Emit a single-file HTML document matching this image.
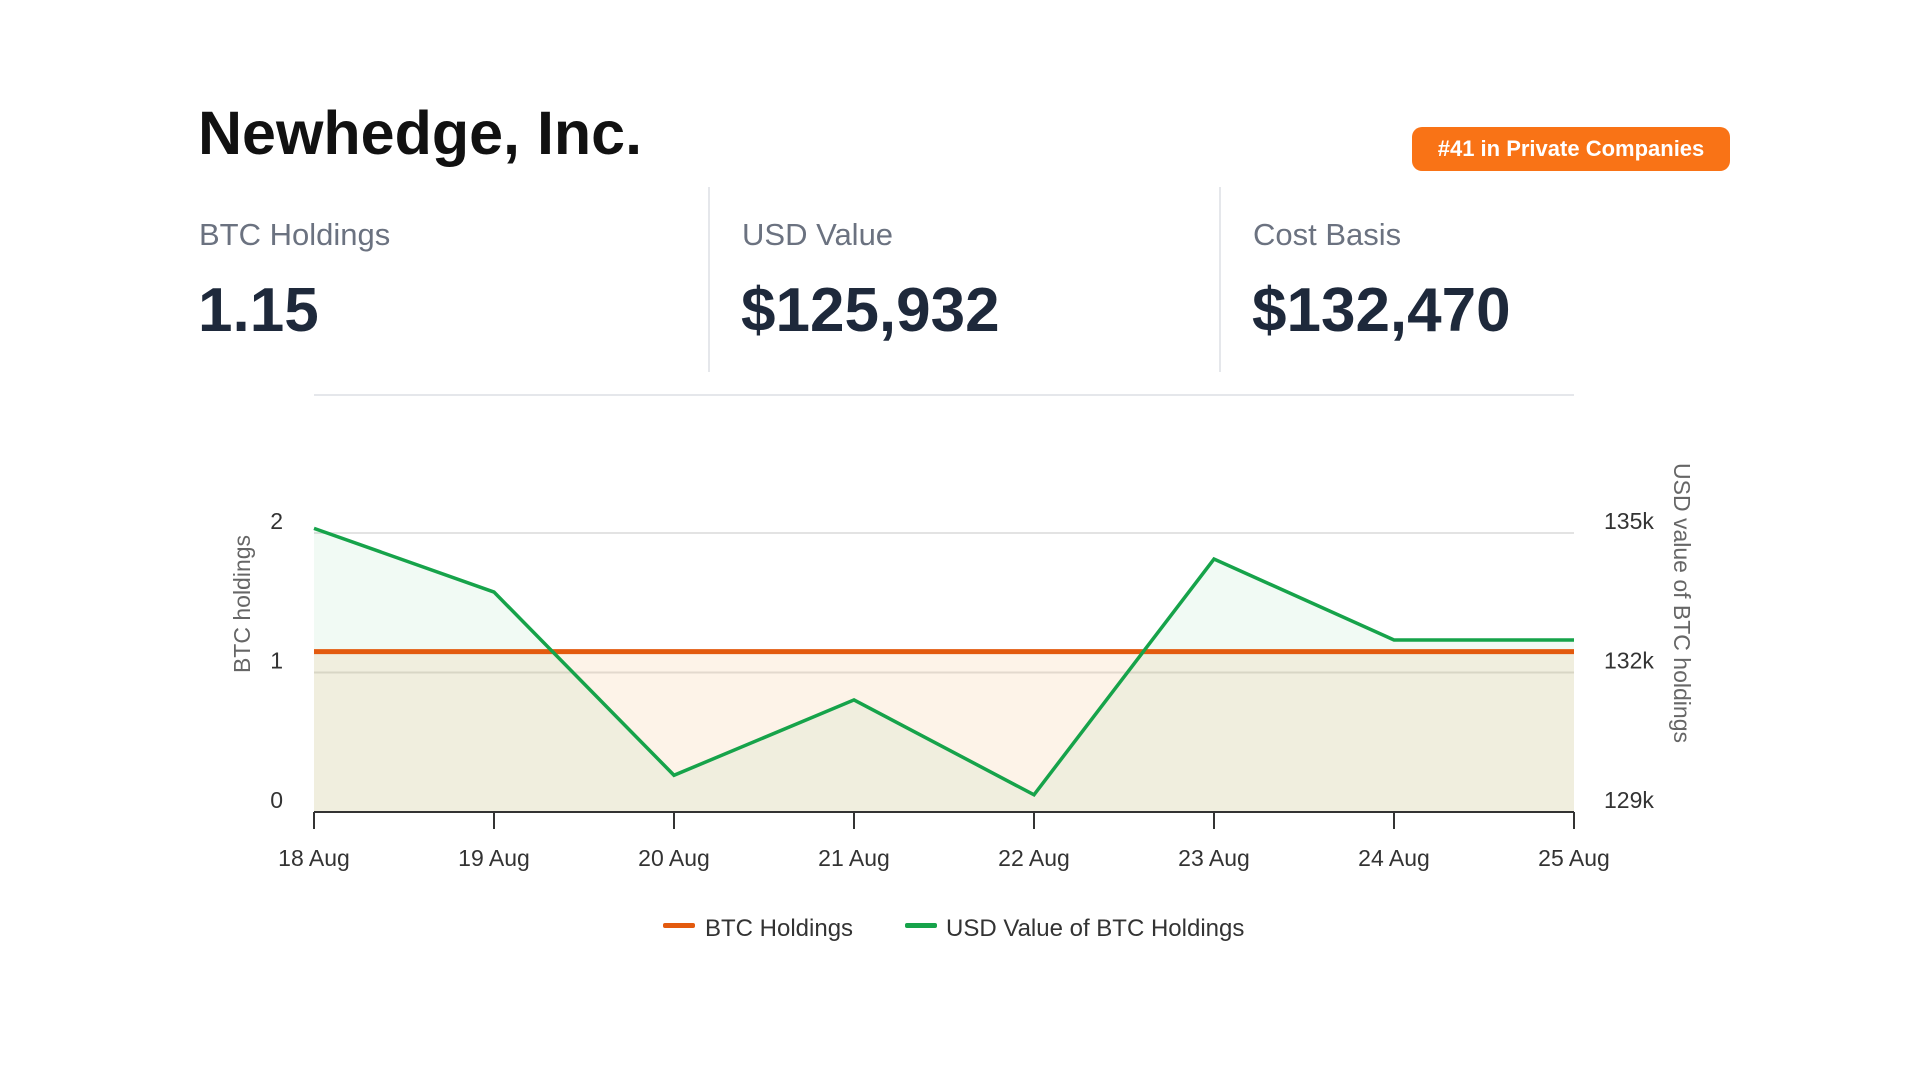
<!DOCTYPE html>
<html><head><meta charset="utf-8"><style>
body{margin:0;width:1920px;height:1080px;background:#fff;font-family:"Liberation Sans",sans-serif;position:relative;overflow:hidden}
.abs{position:absolute}
.title{left:198px;top:98px;font-size:61px;font-weight:bold;color:#111;letter-spacing:0px}
.badge{left:1412px;top:127px;width:318px;height:44px;background:#f97316;border-radius:10px;color:#fff;font-size:22px;font-weight:bold;text-align:center;line-height:44px}
.lbl{font-size:31px;color:#6b7280;top:217px}
.val{font-size:62px;font-weight:bold;color:#1e293b;top:275px}
.div{width:2px;background:#e5e7eb;top:187px;height:185px}
</style></head><body>
<div class="abs title">Newhedge, Inc.</div>
<div class="abs badge">#41 in Private Companies</div>
<div class="abs lbl" style="left:199px">BTC Holdings</div>
<div class="abs val" style="left:198px">1.15</div>
<div class="abs div" style="left:708px"></div>
<div class="abs lbl" style="left:742px">USD Value</div>
<div class="abs val" style="left:741px">$125,932</div>
<div class="abs div" style="left:1219px"></div>
<div class="abs lbl" style="left:1253px">Cost Basis</div>
<div class="abs val" style="left:1252px">$132,470</div>
<svg class="abs" style="left:0;top:0" width="1920" height="1080" id="chart"></svg>
<script>
const categories=["18 Aug","19 Aug","20 Aug","21 Aug","22 Aug","23 Aug","24 Aug","25 Aug"];
const btcValues=[1.15,1.15,1.15,1.15,1.15,1.15,1.15,1.15];
const usdValues=[135.1,133.73,129.79,131.41,129.37,134.44,132.7,132.7];
const leftTicks=[0,1,2];
const rightTicks=[129,132,135];
const NS="http://www.w3.org/2000/svg";
const svg=document.getElementById('chart');
const X0=314,X1=1574,Y0=812,Y2=533;
const xs=i=>X0+(X1-X0)*i/(categories.length-1);
const yL=v=>Y0-(Y0-Y2)*v/2;
const yR=v=>Y0-(Y0-Y2)*(v-129)/6;
function mk(tag,attrs,name,txt){const e=document.createElementNS(NS,tag);for(const k in attrs)e.setAttribute(k,attrs[k]);


if(txt!==undefined)e.textContent=txt;svg.appendChild(e);return e;}
mk('line',{x1:X0,x2:X1,y1:395,y2:395,stroke:'#e5e7eb','stroke-width':2},'chart-top-border');
leftTicks.forEach(t=>{if(t>0)mk('line',{x1:X0,x2:X1,y1:yL(t),y2:yL(t),stroke:'#e3e3e3','stroke-width':2},'gridline');
mk('text',{x:283,y:yL(t)-4,'text-anchor':'end','font-size':23,fill:'#333'},'left-tick-label',String(t));});
rightTicks.forEach(t=>{mk('text',{x:1604,y:yR(t)-4,'font-size':23,fill:'#333'},'right-tick-label',t+'k');});
let pu='M'+xs(0)+','+Y0;usdValues.forEach((v,i)=>pu+=' L'+xs(i)+','+yR(v));pu+=' L'+xs(usdValues.length-1)+','+Y0+'Z';
mk('path',{d:pu,fill:'rgba(22,163,74,0.06)'},'usd-area');
let pb='M'+xs(0)+','+Y0;btcValues.forEach((v,i)=>pb+=' L'+xs(i)+','+yL(v));pb+=' L'+xs(btcValues.length-1)+','+Y0+'Z';
mk('path',{d:pb,fill:'rgba(240,140,30,0.1)'},'btc-area');
let lb='';btcValues.forEach((v,i)=>lb+=(i?' L':'M')+xs(i)+','+yL(v));
mk('path',{d:lb,fill:'none',stroke:'#e35a0e','stroke-width':5},'btc-line');
let lu='';usdValues.forEach((v,i)=>lu+=(i?' L':'M')+xs(i)+','+yR(v));
mk('path',{d:lu,fill:'none',stroke:'#16a34a','stroke-width':3.5,'stroke-linejoin':'miter'},'usd-line');
mk('line',{x1:X0,x2:X1,y1:Y0,y2:Y0,stroke:'#333','stroke-width':2},'x-axis');
categories.forEach((c,i)=>{mk('line',{x1:xs(i),x2:xs(i),y1:Y0,y2:Y0+17,stroke:'#333','stroke-width':2},'x-tick');
mk('text',{x:xs(i),y:866,'text-anchor':'middle','font-size':23,fill:'#333'},'x-tick-label',c);});
mk('text',{x:0,y:0,transform:'translate(250,604) rotate(-90)','font-size':23,fill:'#666','text-anchor':'middle'},'left-axis-title','BTC holdings');
mk('text',{x:0,y:0,transform:'translate(1674,603) rotate(90)','font-size':23,fill:'#666','text-anchor':'middle'},'right-axis-title','USD value of BTC holdings');
mk('rect',{x:663,y:923,width:32,height:5,rx:2,fill:'#e35a0e'},'legend-btc-swatch');
mk('text',{x:705,y:936,'font-size':24,fill:'#333'},'legend-btc-label','BTC Holdings');
mk('rect',{x:905,y:923,width:32,height:5,rx:2,fill:'#16a34a'},'legend-usd-swatch');
mk('text',{x:946,y:936,'font-size':24,fill:'#333'},'legend-usd-label','USD Value of BTC Holdings');
</script>
</body></html>
